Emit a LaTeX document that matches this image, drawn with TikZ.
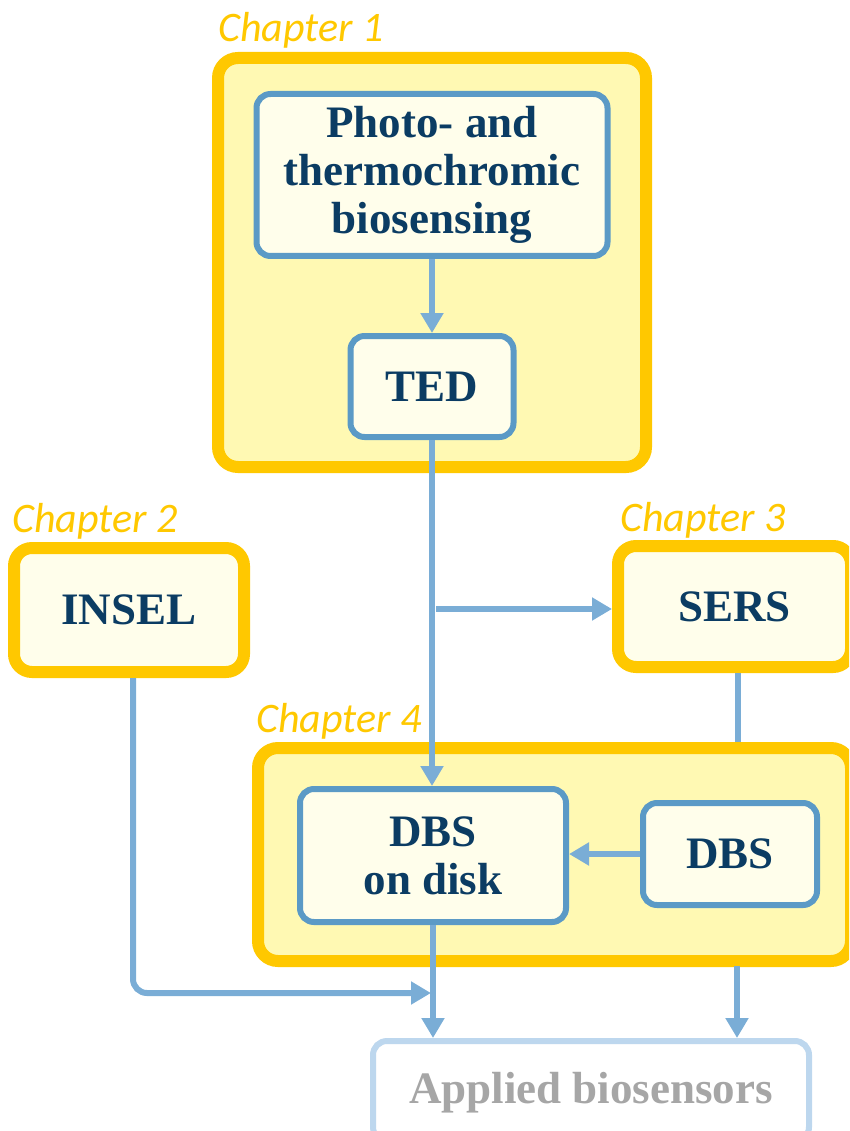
\documentclass[tikz,border=0pt]{standalone}
\usepackage{fontspec}
\setmainfont{Liberation Serif}
\newfontfamily\chapfont{Carlito}
\usetikzlibrary{arrows.meta,positioning,calc}
\definecolor{chyellow}{HTML}{FFC800}
\definecolor{chfill}{HTML}{FFF9B3}
\definecolor{boxfill}{HTML}{FFFEEB}
\definecolor{boxblue}{HTML}{5B9AC6}
\definecolor{conblue}{HTML}{7AADD6}
\definecolor{txtblue}{HTML}{0B3C63}
\definecolor{palblue}{HTML}{BDD7EE}
\definecolor{txtgray}{HTML}{A6A6A6}
\begin{document}
\begin{tikzpicture}[x=1pt,y=-1pt,
  chapbox/.style={draw=chyellow,line width=12pt,rounded corners=20pt,fill=chfill,inner sep=0pt},
  smallchap/.style={draw=chyellow,line width=12pt,rounded corners=18pt,fill=boxfill,inner sep=0pt,
     text=txtblue,font=\fontsize{45}{48}\selectfont\bfseries,align=center},
  bluebox/.style={draw=boxblue,line width=6pt,rounded corners=14pt,fill=boxfill,inner sep=0pt,
     text=txtblue,font=\fontsize{45}{48}\selectfont\bfseries,align=center},
  chaplabel/.style={anchor=base west,inner sep=0pt,text=chyellow,font=\fontsize{42}{44}\selectfont\chapfont\itshape},
  con/.style={draw=conblue,line width=6pt},
  arr/.style={con,-{Triangle[width=22pt,length=20pt]}}
]
\useasboundingbox (0,0) rectangle (849,1131);
\clip (0,0) rectangle (849,1131);

% Chapter 1
\node[chaplabel] (c1lab) at (218,42) {Chapter 1};
\node[chapbox,minimum width=428pt,minimum height=409pt] (ch1) at (432,262.5) {};
\node[bluebox,minimum width=351pt,minimum height=162pt] (photo) at (432,175) {Photo- and\\thermochromic\\biosensing};
\node[bluebox,minimum width=163pt,minimum height=101pt] (ted) at (432,386.5) {TED};

% Chapter 2
\node[chaplabel] (c2lab) at (12,532) {Chapter 2};
\node[smallchap,minimum width=230pt,minimum height=124pt] (insel) at (129,610) {INSEL};

% Chapter 3
\node[chaplabel] (c3lab) at (620,531) {Chapter 3};
\node[smallchap,minimum width=233pt,minimum height=121pt] (sers) at (734.5,606.5) {SERS};

% Chapter 4
\node[chaplabel] (c4lab) at (256,732) {Chapter 4};
\coordinate (serdown) at (738,673);
\draw[con] (serdown) -- (738,750);
\node[chapbox,minimum width=593pt,minimum height=213pt] (ch4) at (554.5,854.5) {};
\node[bluebox,minimum width=266pt,minimum height=133pt] (disk) at (433,855.5) {DBS\\on disk};
\node[bluebox,minimum width=174pt,minimum height=102pt] (dbs) at (730,854) {DBS};

% Applied
\node[draw=palblue,line width=6pt,rounded corners=14pt,fill=white,inner sep=0pt,
  minimum width=436pt,minimum height=100pt] (app) at (591,1091) {};
\node[text=txtgray,font=\fontsize{45}{48}\selectfont\bfseries,inner sep=0pt,anchor=base] (apptxt) at (591,1103) {Applied biosensors};

% connectors
\draw[arr] (photo.south) -- (ted.north);
\draw[arr] (ted.south) -- (ted.south |- disk.north);
\coordinate (branch) at (436,609);
\draw[arr] (branch) -- (sers.west |- branch);
\draw[arr] (dbs.west) -- (disk.east |- dbs.west);
\coordinate (inselend) at (431,993);
\draw[arr,rounded corners=14pt] (insel.south -| 133,0) -- (133,993) -- (inselend);
\draw[arr] (disk.south) -- (disk.south |- app.north);
\coordinate (ch4out) at (737,966);
\draw[arr] (ch4out) -- (ch4out |- app.north);
\end{tikzpicture}
\end{document}
